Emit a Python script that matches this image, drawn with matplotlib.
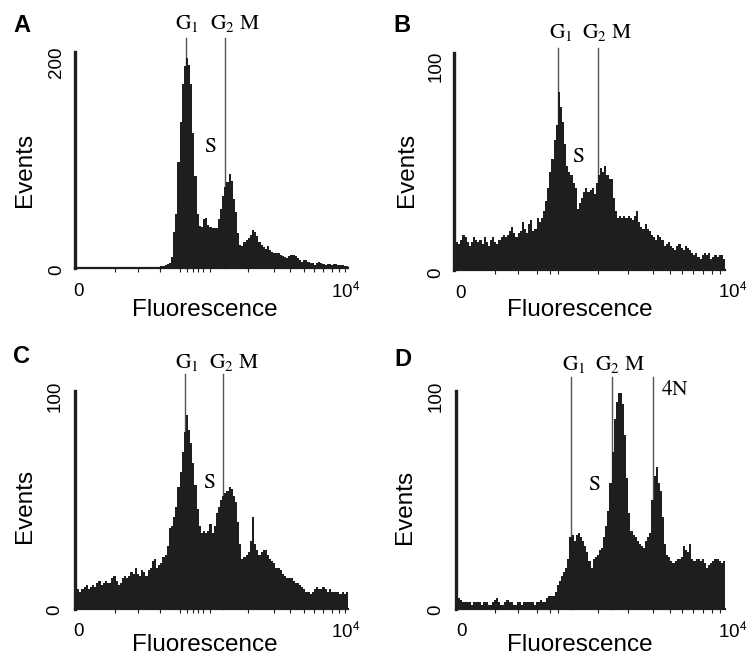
import numpy as np
import matplotlib
matplotlib.use("Agg")
import matplotlib.pyplot as plt

plt.rcParams['font.family'] = ['Liberation Sans', 'DejaVu Sans']
plt.rcParams['mathtext.fontset'] = 'stix'

W, H = 749, 658

# channel axis: 128 bins of width 8 over 0..1024 (label 0 .. 10^4)
n_bins = 128
bin_width = 8
x_max = 1024

events_A = [0]*38 + [1, 0, 2, 2, 3, 4, 5, 10, 33, 50, 98, 135, 170, 187, 194, 188, 170, 125, 85, 50,
            39, 38, 45, 46, 40, 38, 37, 37, 37, 45, 55, 67, 75, 80, 87, 81, 64, 52, 32, 21,
            20, 24, 26, 28, 31, 35, 33, 30, 24, 21, 19, 18, 20, 17, 15, 14, 14, 14, 12, 11,
            10, 9, 11, 12, 12, 11, 9, 7, 6, 7, 7, 6, 5, 5, 3, 5, 6, 5, 4, 3,
            4, 4, 3, 4, 4, 3, 3, 3, 2, 2]

events_B = [12, 13, 12, 14, 16, 15, 13, 11, 13, 15, 14, 13, 14, 12, 15, 13, 11, 14, 15, 13,
            12, 14, 15, 16, 15, 16, 18, 20, 17, 15, 17, 18, 22, 19, 17, 21, 23, 18, 19, 24,
            22, 24, 27, 32, 38, 45, 51, 60, 67, 82, 75, 68, 58, 48, 45, 44, 40, 38, 28, 31,
            33, 36, 38, 36, 37, 38, 35, 40, 44, 47, 45, 48, 44, 42, 42, 33, 27, 24, 25, 24,
            25, 24, 25, 24, 23, 25, 27, 22, 20, 19, 21, 19, 18, 16, 15, 14, 16, 15, 14, 11,
            12, 13, 11, 10, 9, 11, 12, 10, 9, 11, 10, 9, 8, 7, 8, 6, 5, 7, 8, 7,
            8, 5, 6, 7, 6, 7, 7, 5]

events_C = [8, 9, 8, 9, 10, 11, 9, 10, 11, 10, 12, 13, 11, 12, 13, 12, 12, 14, 15, 13,
            11, 12, 14, 15, 14, 15, 17, 16, 19, 16, 15, 18, 17, 15, 18, 19, 22, 23, 19, 20,
            21, 24, 25, 29, 37, 38, 42, 47, 56, 63, 72, 81, 89, 82, 76, 67, 57, 46, 38, 35,
            36, 35, 36, 39, 35, 38, 44, 47, 50, 52, 53, 54, 56, 55, 52, 49, 40, 30, 23, 24,
            25, 26, 31, 42, 30, 27, 25, 26, 27, 27, 25, 23, 22, 21, 19, 19, 18, 16, 15, 14,
            14, 14, 13, 12, 12, 11, 10, 9, 8, 8, 7, 8, 9, 10, 9, 9, 10, 9, 8, 9,
            8, 8, 8, 8, 7, 8, 7, 8]

events_D = [4, 5, 4, 3, 3, 3, 3, 2, 3, 3, 3, 3, 2, 3, 3, 2, 2, 3, 4, 5,
            3, 2, 2, 3, 4, 3, 3, 2, 2, 3, 3, 2, 3, 3, 3, 3, 3, 2, 3, 3,
            4, 3, 3, 5, 6, 6, 6, 8, 11, 13, 15, 17, 19, 23, 33, 34, 31, 34, 35, 33,
            31, 29, 26, 22, 19, 23, 24, 25, 27, 28, 33, 38, 45, 58, 72, 87, 95, 99, 99, 94,
            80, 60, 44, 36, 34, 33, 31, 30, 29, 28, 31, 33, 35, 50, 61, 65, 58, 54, 42, 30,
            25, 24, 22, 21, 22, 23, 23, 24, 29, 27, 26, 30, 23, 22, 23, 23, 22, 23, 21, 19,
            20, 21, 22, 23, 23, 22, 21, 22]

panels = ["A", "B", "C", "D"]
y_max = [200, 100, 100, 100]
series = [events_A, events_B, events_C, events_D]

# marker lines (channel positions)
markers = {
    "A": [416, 563],
    "B": [393, 544],
    "C": [413, 555],
    "D": [438, 594, 750],
}
marker_top = {"A": 213, "B": 102.3, "C": 107.8, "D": 106.4}

# axes boxes in pixels: left, right, top, bottom
boxes = {
    "A": (75, 348, 52, 268),
    "B": (454, 725, 53, 270),
    "C": (75, 348, 391, 609),
    "D": (456, 725, 391, 609),
}

# minor tick pixel positions
minor_px_left = [115, 138, 160, 180, 187, 193, 198, 203, 210, 248, 274, 290, 304, 314, 323, 332, 339, 345]
minor_px_right = [495, 518, 537, 550, 558, 598, 628, 653, 670, 682, 693, 703, 712, 720]

BAR = "#1e1e1e"
LINE = "#555555"

fig = plt.figure(figsize=(W/100, H/100), dpi=100)

def F(px, py):
    return px / W, 1 - py / H

edges = np.arange(n_bins + 1) * bin_width

for key, ymax, vals in zip(panels, y_max, series):
    l, r, t, b = boxes[key]
    ax = fig.add_axes([l / W, 1 - b / H, (r - l) / W, (b - t) / H])
    ax.stairs(vals, edges, fill=True, color=BAR, linewidth=0, zorder=3)
    ax.set_xlim(0, x_max)
    ax.set_ylim(0, ymax)
    for s in ["top", "right"]:
        ax.spines[s].set_visible(False)
    ax.spines["left"].set_linewidth(2.4)
    ax.spines["left"].set_color(BAR)
    ax.spines["bottom"].set_linewidth(1.6)
    ax.spines["bottom"].set_color(BAR)
    ax.spines["left"].set_zorder(5)
    ax.set_yticks([])
    minor_px = minor_px_left if l < 300 else minor_px_right
    ax.set_xticks([(p - l) / (r - l) * x_max for p in minor_px])
    ax.set_xticklabels([])
    ax.tick_params(axis="x", length=3, width=0.8, color=BAR, direction="out")
    for m in markers[key]:
        ax.plot([m, m], [0, marker_top[key]], color=LINE, lw=1.0, zorder=1, clip_on=False)

# Text positions (pixels)
txt = {
    "A": dict(letter=(22, 26), ev=(25, 170), fl=(205, 310), x0=(78, 292), x1=(346, 292),
              y0=(57, 270), y1=(57, 62), G1=(187, 29), G2=(235, 29), S=(210, 147)),
    "B": dict(letter=(402, 26), ev=(407, 170), fl=(580, 310), x0=(460, 293), x1=(733, 292),
              y0=(436, 273), y1=(436, 66), G1=(561, 38), G2=(607, 38), S=(578, 156)),
    "C": dict(letter=(22, 357), ev=(25, 506), fl=(205, 645), x0=(78, 632), x1=(346, 632),
              y0=(55, 610), y1=(55, 396), G1=(187, 368), G2=(234, 368), S=(209, 482)),
    "D": dict(letter=(403, 359), ev=(405, 507), fl=(580, 645), x0=(462, 632), x1=(733, 632),
              y0=(436, 610), y1=(436, 396), G1=(574, 370), G2=(620, 370), S=(594, 484)),
}

SERIF = 15.5

for key, ymax in zip(panels, y_max):
    d = txt[key]
    fig.text(*F(*d["letter"]), key, fontsize=17, fontweight="bold", ha="center", va="center")
    fig.text(*F(*d["ev"]), "Events", fontsize=17.5, rotation=90, ha="center", va="center")
    fig.text(*F(*d["fl"]), "Fluorescence", fontsize=17.5, ha="center", va="center")
    fig.text(*F(*d["x0"]), "0", fontsize=13.5, ha="center", va="center")
    fig.text(*F(*d["x1"]), "10$^{\\mathsf{4}}$", fontsize=13.5, ha="center", va="center")
    fig.text(*F(*d["y0"]), "0", fontsize=13.5, rotation=90, ha="center", va="center")
    fig.text(*F(*d["y1"]), str(ymax), fontsize=13.5, rotation=90, ha="center", va="center")
    fig.text(*F(*d["G1"]), r"$\mathrm{G_1}$", fontsize=SERIF, ha="center", va="baseline")
    fig.text(*F(*d["G2"]), r"$\mathrm{G_2\ M}$", fontsize=SERIF, ha="center", va="baseline")
    fig.text(*F(*d["S"]), r"$\mathrm{S}$", fontsize=SERIF, ha="center", va="center")

fig.text(*F(675, 395), r"$\mathrm{4N}$", fontsize=SERIF, ha="center", va="baseline")

fig.savefig("out.png", dpi=100, facecolor="white")
